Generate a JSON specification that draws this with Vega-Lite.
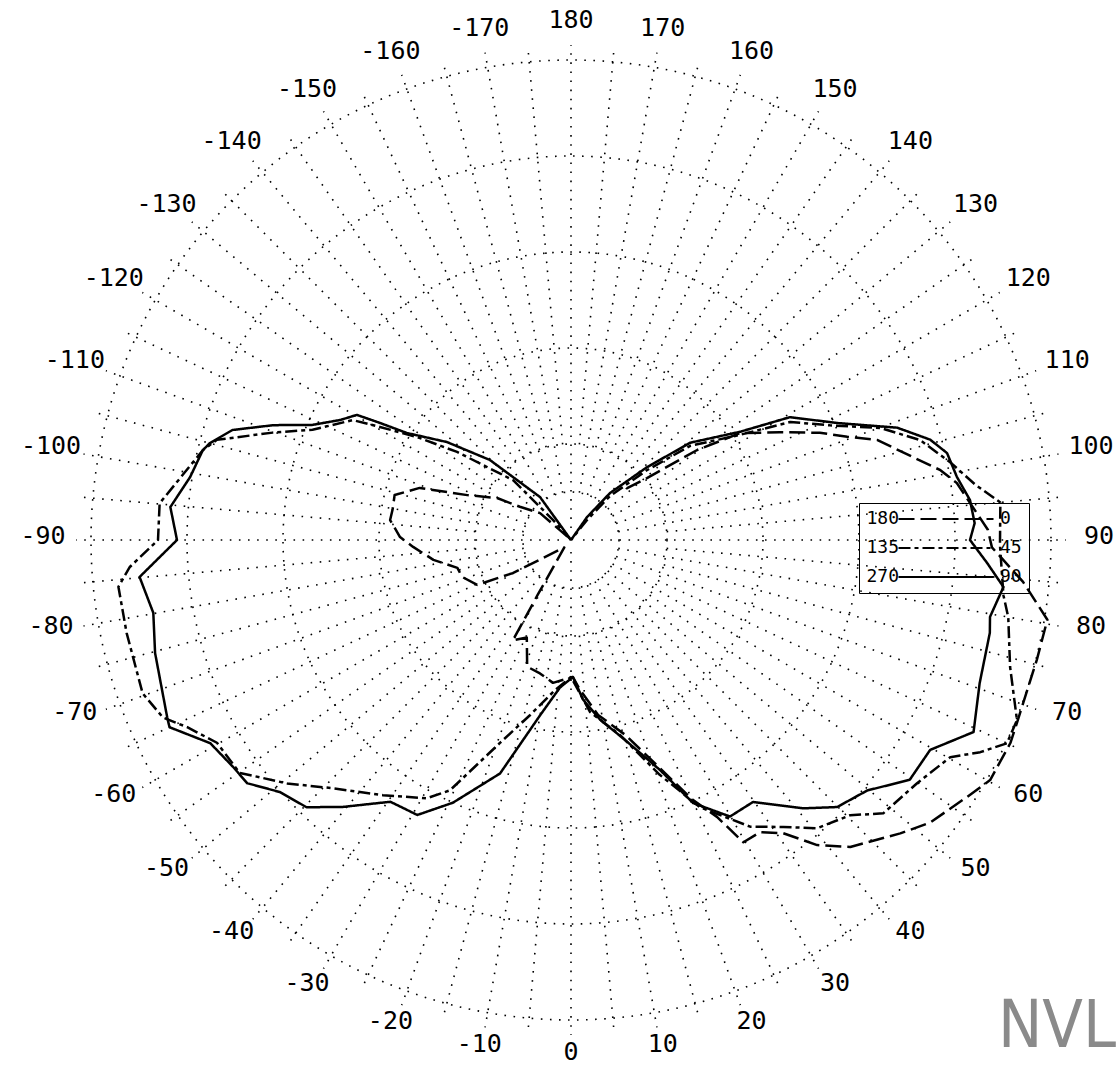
{
  "$schema": "https://vega.github.io/schema/vega-lite/v6.json",
  "width": 1118,
  "height": 1067,
  "autosize": {"type": "none"},
  "padding": 0,
  "background": "white",
  "config": {"view": {"stroke": null}},
  "title": {"text": "NVL", "orient": "bottom", "anchor": "end", "offset": -72, "dx": -2, "fontSize": 66, "font": "DejaVu Sans Condensed, Liberation Sans Narrow, Liberation Sans", "fontWeight": "normal", "color": "#8a8a8a"},
  "layer": [
    {
      "data": {"values": [{"ring": 48}, {"ring": 96}, {"ring": 192}, {"ring": 288}, {"ring": 384}, {"ring": 480}]},
      "mark": {"type": "point", "shape": "circle", "filled": false, "color": "black", "strokeWidth": 1.6, "strokeDash": [1.6, 7.5], "opacity": 1},
      "encoding": {
        "x": {"datum": 0, "type": "quantitative", "scale": {"domain": [-571, 547], "nice": false, "zero": false}, "axis": null},
        "y": {"datum": 0, "type": "quantitative", "scale": {"domain": [-527, 540], "nice": false, "zero": false}, "axis": null},
        "size": {"field": "ring", "type": "quantitative", "scale": {"type": "pow", "exponent": 2, "domain": [0, 480], "range": [0, 921600]}, "legend": null}
      }
    },
    {
      "data": {"values": [{"a": 0}, {"a": 90}, {"a": 180}, {"a": -90}]},
      "transform": [
        {"calculate": "12*sin(datum.a*PI/180)", "as": "sx1"},
        {"calculate": "-12*cos(datum.a*PI/180)", "as": "sy1"},
        {"calculate": "495*sin(datum.a*PI/180)", "as": "sx2"},
        {"calculate": "-495*cos(datum.a*PI/180)", "as": "sy2"}
      ],
      "mark": {"type": "rule", "color": "black", "strokeWidth": 1.6, "strokeDash": [1.6, 7.5]},
      "encoding": {
        "x": {"field": "sx1", "type": "quantitative"},
        "y": {"field": "sy1", "type": "quantitative"},
        "x2": {"field": "sx2"},
        "y2": {"field": "sy2"}
      }
    },
    {
      "data": {"values": [{"a": 10}, {"a": 20}, {"a": 30}, {"a": 40}, {"a": 50}, {"a": 60}, {"a": 70}, {"a": 80}, {"a": 100}, {"a": 110}, {"a": 120}, {"a": 130}, {"a": 140}, {"a": 150}, {"a": 160}, {"a": 170}, {"a": -10}, {"a": -20}, {"a": -30}, {"a": -40}, {"a": -50}, {"a": -60}, {"a": -70}, {"a": -80}, {"a": -100}, {"a": -110}, {"a": -120}, {"a": -130}, {"a": -140}, {"a": -150}, {"a": -160}, {"a": -170}]},
      "transform": [
        {"calculate": "48*sin(datum.a*PI/180)", "as": "sx1"},
        {"calculate": "-48*cos(datum.a*PI/180)", "as": "sy1"},
        {"calculate": "495*sin(datum.a*PI/180)", "as": "sx2"},
        {"calculate": "-495*cos(datum.a*PI/180)", "as": "sy2"}
      ],
      "mark": {"type": "rule", "color": "black", "strokeWidth": 1.6, "strokeDash": [1.6, 7.5]},
      "encoding": {
        "x": {"field": "sx1", "type": "quantitative"},
        "y": {"field": "sy1", "type": "quantitative"},
        "x2": {"field": "sx2"},
        "y2": {"field": "sy2"}
      }
    },
    {
      "data": {"values": [{"a": 5}, {"a": 15}, {"a": 25}, {"a": 35}, {"a": 45}, {"a": 55}, {"a": 65}, {"a": 75}, {"a": 85}, {"a": 95}, {"a": 105}, {"a": 115}, {"a": 125}, {"a": 135}, {"a": 145}, {"a": 155}, {"a": 165}, {"a": 175}, {"a": -5}, {"a": -15}, {"a": -25}, {"a": -35}, {"a": -45}, {"a": -55}, {"a": -65}, {"a": -75}, {"a": -85}, {"a": -95}, {"a": -105}, {"a": -115}, {"a": -125}, {"a": -135}, {"a": -145}, {"a": -155}, {"a": -165}, {"a": -175}]},
      "transform": [
        {"calculate": "96*sin(datum.a*PI/180)", "as": "sx1"},
        {"calculate": "-96*cos(datum.a*PI/180)", "as": "sy1"},
        {"calculate": "495*sin(datum.a*PI/180)", "as": "sx2"},
        {"calculate": "-495*cos(datum.a*PI/180)", "as": "sy2"}
      ],
      "mark": {"type": "rule", "color": "black", "strokeWidth": 1.6, "strokeDash": [1.6, 7.5]},
      "encoding": {
        "x": {"field": "sx1", "type": "quantitative"},
        "y": {"field": "sy1", "type": "quantitative"},
        "x2": {"field": "sx2"},
        "y2": {"field": "sy2"}
      }
    },
    {
      "data": {"values": [
        {"t": "90", "a": -145, "r": 0}, {"t": "90", "a": -144.2, "r": 53}, {"t": "90", "a": -134.6, "r": 114}, {"t": "90", "a": -128.3, "r": 158}, {"t": "90", "a": -123.1, "r": 196}, {"t": "90", "a": -121.5, "r": 224}, {"t": "90", "a": -120.3, "r": 248}, {"t": "90", "a": -117.5, "r": 260}, {"t": "90", "a": -114, "r": 283}, {"t": "90", "a": -111.1, "r": 319}, {"t": "90", "a": -108, "r": 356}, {"t": "90", "a": -105, "r": 374}, {"t": "90", "a": -103.7, "r": 379}, {"t": "90", "a": -99.4, "r": 386}, {"t": "90", "a": -94.7, "r": 402}, {"t": "90", "a": -90, "r": 394}, {"t": "90", "a": -85.1, "r": 433}, {"t": "90", "a": -80.1, "r": 424}, {"t": "90", "a": -74.8, "r": 431}, {"t": "90", "a": -66.3, "r": 441}, {"t": "90", "a": -65, "r": 443}, {"t": "90", "a": -60.6, "r": 414}, {"t": "90", "a": -56.1, "r": 407}, {"t": "90", "a": -53.1, "r": 405}, {"t": "90", "a": -49.1, "r": 385}, {"t": "90", "a": -44.7, "r": 376}, {"t": "90", "a": -40.5, "r": 351}, {"t": "90", "a": -34.6, "r": 318}, {"t": "90", "a": -29.2, "r": 315}, {"t": "90", "a": -24.2, "r": 288}, {"t": "90", "a": -16.9, "r": 244}, {"t": "90", "a": -10, "r": 178}, {"t": "90", "a": -4.3, "r": 148}, {"t": "90", "a": 0.8, "r": 137}, {"t": "90", "a": 4.3, "r": 160}, {"t": "90", "a": 9.2, "r": 182}, {"t": "90", "a": 15.1, "r": 207}, {"t": "90", "a": 21.2, "r": 247}, {"t": "90", "a": 24.9, "r": 290}, {"t": "90", "a": 29.9, "r": 319}, {"t": "90", "a": 34.8, "r": 319}, {"t": "90", "a": 40.9, "r": 355}, {"t": "90", "a": 44.9, "r": 377}, {"t": "90", "a": 49.8, "r": 388}, {"t": "90", "a": 54.7, "r": 415}, {"t": "90", "a": 59.7, "r": 416}, {"t": "90", "a": 64.5, "r": 446}, {"t": "90", "a": 70.7, "r": 433}, {"t": "90", "a": 77.5, "r": 429}, {"t": "90", "a": 79.6, "r": 426}, {"t": "90", "a": 83.8, "r": 435}, {"t": "90", "a": 86.8, "r": 417}, {"t": "90", "a": 90, "r": 399}, {"t": "90", "a": 92.4, "r": 404}, {"t": "90", "a": 95.7, "r": 401}, {"t": "90", "a": 99.3, "r": 391}, {"t": "90", "a": 103, "r": 386}, {"t": "90", "a": 105.6, "r": 373}, {"t": "90", "a": 109, "r": 345}, {"t": "90", "a": 113.7, "r": 291}, {"t": "90", "a": 119.3, "r": 251}, {"t": "90", "a": 122.6, "r": 201}, {"t": "90", "a": 129.2, "r": 154}, {"t": "90", "a": 133.8, "r": 105}, {"t": "90", "a": 140.3, "r": 61}, {"t": "90", "a": 145, "r": 28}, {"t": "90", "a": 150, "r": 0},
        {"t": "45", "a": -140, "r": 0}, {"t": "45", "a": -138, "r": 27}, {"t": "45", "a": -136, "r": 83}, {"t": "45", "a": -127.7, "r": 144}, {"t": "45", "a": -123.8, "r": 185}, {"t": "45", "a": -120.6, "r": 222}, {"t": "45", "a": -118.8, "r": 249}, {"t": "45", "a": -113.1, "r": 281}, {"t": "45", "a": -109.8, "r": 317}, {"t": "45", "a": -105.8, "r": 368}, {"t": "45", "a": -103.7, "r": 379}, {"t": "45", "a": -95.1, "r": 413}, {"t": "45", "a": -90, "r": 413}, {"t": "45", "a": -86.5, "r": 442}, {"t": "45", "a": -84.1, "r": 455}, {"t": "45", "a": -78.2, "r": 454}, {"t": "45", "a": -70.3, "r": 455}, {"t": "45", "a": -66.5, "r": 445}, {"t": "45", "a": -64, "r": 427}, {"t": "45", "a": -60.2, "r": 408}, {"t": "45", "a": -54.9, "r": 405}, {"t": "45", "a": -49.4, "r": 374}, {"t": "45", "a": -43.8, "r": 344}, {"t": "45", "a": -36.4, "r": 317}, {"t": "45", "a": -29.2, "r": 296}, {"t": "45", "a": -25.8, "r": 278}, {"t": "45", "a": -19.3, "r": 215}, {"t": "45", "a": -13.2, "r": 180}, {"t": "45", "a": -6.1, "r": 151}, {"t": "45", "a": 0, "r": 137}, {"t": "45", "a": 6.3, "r": 173}, {"t": "45", "a": 14.1, "r": 201}, {"t": "45", "a": 20.7, "r": 251}, {"t": "45", "a": 25.8, "r": 297}, {"t": "45", "a": 32, "r": 338}, {"t": "45", "a": 36.5, "r": 357}, {"t": "45", "a": 40.5, "r": 379}, {"t": "45", "a": 45.4, "r": 392}, {"t": "45", "a": 48.8, "r": 415}, {"t": "45", "a": 54.9, "r": 423}, {"t": "45", "a": 60.2, "r": 437}, {"t": "45", "a": 62.6, "r": 461}, {"t": "45", "a": 65, "r": 481}, {"t": "45", "a": 68, "r": 481}, {"t": "45", "a": 73.9, "r": 457}, {"t": "45", "a": 80, "r": 444}, {"t": "45", "a": 82.7, "r": 436}, {"t": "45", "a": 89.3, "r": 429}, {"t": "45", "a": 95, "r": 431}, {"t": "45", "a": 97.8, "r": 408}, {"t": "45", "a": 101.6, "r": 387}, {"t": "45", "a": 106, "r": 363}, {"t": "45", "a": 109.9, "r": 329}, {"t": "45", "a": 113.9, "r": 283}, {"t": "45", "a": 118.3, "r": 249}, {"t": "45", "a": 121.9, "r": 199}, {"t": "45", "a": 128.3, "r": 152}, {"t": "45", "a": 132.6, "r": 103}, {"t": "45", "a": 138.4, "r": 59}, {"t": "45", "a": 141.3, "r": 26}, {"t": "45", "a": 145, "r": 0},
        {"t": "0", "a": -133, "r": 5}, {"t": "0", "a": -131, "r": 41}, {"t": "0", "a": -123, "r": 61}, {"t": "0", "a": -119.6, "r": 85}, {"t": "0", "a": -113.4, "r": 113}, {"t": "0", "a": -109, "r": 160}, {"t": "0", "a": -104.3, "r": 182}, {"t": "0", "a": -99.6, "r": 181}, {"t": "0", "a": -96.3, "r": 182}, {"t": "0", "a": -91, "r": 171}, {"t": "0", "a": -87.5, "r": 158}, {"t": "0", "a": -81.8, "r": 139}, {"t": "0", "a": -76.2, "r": 117}, {"t": "0", "a": -71.3, "r": 115}, {"t": "0", "a": -64.4, "r": 104}, {"t": "0", "a": -60.4, "r": 67}, {"t": "0", "a": -54, "r": 22}, {"t": "0", "a": -42, "r": 10}, {"t": "0", "a": -32.5, "r": 39}, {"t": "0", "a": -31.3, "r": 64}, {"t": "0", "a": -30.1, "r": 116}, {"t": "0", "a": -24.4, "r": 107}, {"t": "0", "a": -19.1, "r": 134}, {"t": "0", "a": -13.1, "r": 137}, {"t": "0", "a": -7.2, "r": 144}, {"t": "0", "a": 0.8, "r": 137}, {"t": "0", "a": 3.4, "r": 150}, {"t": "0", "a": 8.8, "r": 177}, {"t": "0", "a": 15.5, "r": 202}, {"t": "0", "a": 21.3, "r": 245}, {"t": "0", "a": 25.1, "r": 287}, {"t": "0", "a": 27.8, "r": 313}, {"t": "0", "a": 29.7, "r": 348}, {"t": "0", "a": 32.9, "r": 348}, {"t": "0", "a": 35.9, "r": 362}, {"t": "0", "a": 38.9, "r": 392}, {"t": "0", "a": 42.3, "r": 415}, {"t": "0", "a": 48.3, "r": 441}, {"t": "0", "a": 51.8, "r": 457}, {"t": "0", "a": 57, "r": 472}, {"t": "0", "a": 60.2, "r": 483}, {"t": "0", "a": 65.2, "r": 484}, {"t": "0", "a": 67.7, "r": 482}, {"t": "0", "a": 75.6, "r": 481}, {"t": "0", "a": 80.5, "r": 483}, {"t": "0", "a": 84.7, "r": 454}, {"t": "0", "a": 89, "r": 421}, {"t": "0", "a": 91.4, "r": 417}, {"t": "0", "a": 98.4, "r": 390}, {"t": "0", "a": 100.7, "r": 376}, {"t": "0", "a": 103.6, "r": 352}, {"t": "0", "a": 108.1, "r": 322}, {"t": "0", "a": 110.5, "r": 295}, {"t": "0", "a": 113.3, "r": 271}, {"t": "0", "a": 117.3, "r": 235}, {"t": "0", "a": 122.3, "r": 200}, {"t": "0", "a": 125.5, "r": 155}, {"t": "0", "a": 129.2, "r": 98}, {"t": "0", "a": 132.9, "r": 76}, {"t": "0", "a": 136.5, "r": 79}
      ]},
      "transform": [
        {"calculate": "datum.r*sin(datum.a*PI/180)", "as": "px"},
        {"calculate": "-datum.r*cos(datum.a*PI/180)", "as": "py"}
      ],
      "mark": {"type": "line", "color": "black", "strokeWidth": 2.5, "strokeJoin": "round"},
      "encoding": {
        "x": {"field": "px", "type": "quantitative"},
        "y": {"field": "py", "type": "quantitative"},
        "order": {"field": "a", "type": "quantitative"},
        "strokeDash": {
          "field": "t", "type": "nominal",
          "scale": {"domain": ["0", "45", "90"], "range": [[16, 6], [12, 4, 4, 4], [1, 0]]},
          "legend": {
            "orient": "none", "legendX": 859, "legendY": 503,
            "title": ["180", "135", "270"], "titleOrient": "left", "titleFont": "DejaVu Sans Mono", "titleFontSize": 18, "titleFontWeight": "normal", "titleLineHeight": 29, "titleColor": "black", "titlePadding": 5, "titleAlign": "right", "titleBaseline": "middle",
            "symbolType": "M -9.5 0 L 9.5 0", "symbolSize": 100, "symbolStrokeWidth": 2, "symbolStrokeColor": "black", "symbolOffset": 0,
            "labelOffset": 45, "labelFont": "DejaVu Sans Mono", "labelFontSize": 18, "labelColor": "black",
            "rowPadding": 11, "strokeColor": "black", "padding": 7
          }
        }
      }
    },
    {
      "data": {"values": [
        {"a": 180, "lab": "180"}, {"a": 170, "lab": "170"}, {"a": 160, "lab": "160"}, {"a": 150, "lab": "150"}, {"a": 140, "lab": "140"}, {"a": 130, "lab": "130"}, {"a": 120, "lab": "120"}, {"a": 110, "lab": "110"}, {"a": 100, "lab": "100"}, {"a": 90, "lab": "90"}, {"a": 80, "lab": "80"}, {"a": 70, "lab": "70"}, {"a": 60, "lab": "60"}, {"a": 50, "lab": "50"}, {"a": 40, "lab": "40"}, {"a": 30, "lab": "30"}, {"a": 20, "lab": "20"}, {"a": 10, "lab": "10"}, {"a": 0, "lab": "0"},
        {"a": -10, "lab": "-10"}, {"a": -20, "lab": "-20"}, {"a": -30, "lab": "-30"}, {"a": -40, "lab": "-40"}, {"a": -50, "lab": "-50"}, {"a": -60, "lab": "-60"}, {"a": -70, "lab": "-70"}, {"a": -80, "lab": "-80"}, {"a": -90, "lab": "-90"}, {"a": -100, "lab": "-100"}, {"a": -110, "lab": "-110"}, {"a": -120, "lab": "-120"}, {"a": -130, "lab": "-130"}, {"a": -140, "lab": "-140"}, {"a": -150, "lab": "-150"}, {"a": -160, "lab": "-160"}, {"a": -170, "lab": "-170"}
      ]},
      "transform": [
        {"calculate": "528*sin(datum.a*PI/180)", "as": "lx"},
        {"calculate": "-516*cos(datum.a*PI/180)+4", "as": "ly"}
      ],
      "mark": {"type": "text", "font": "DejaVu Sans Mono", "fontSize": 25, "color": "black", "align": "center", "baseline": "middle"},
      "encoding": {
        "x": {"field": "lx", "type": "quantitative"},
        "y": {"field": "ly", "type": "quantitative"},
        "text": {"field": "lab"}
      }
    }
  ]
}
